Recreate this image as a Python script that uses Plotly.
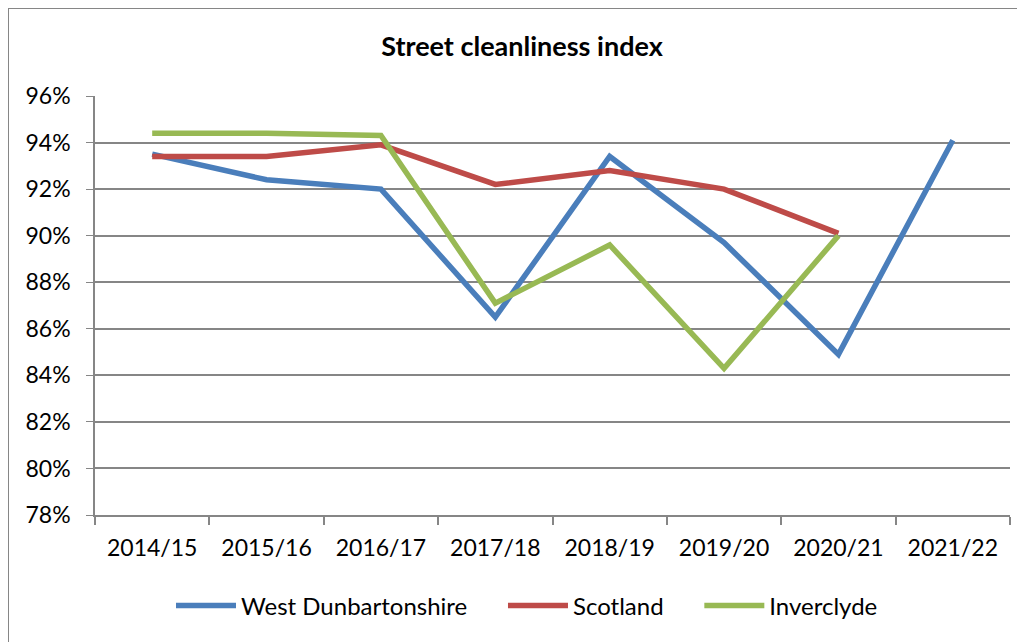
import plotly.graph_objects as go

years = ["2014/15", "2015/16", "2016/17", "2017/18", "2018/19", "2019/20", "2020/21", "2021/22"]
west_dunbartonshire = [93.5, 92.4, 92.0, 86.5, 93.4, 89.7, 84.9, 94.1]
scotland = [93.4, 93.4, 93.9, 92.2, 92.8, 92.0, 90.1, None]
inverclyde = [94.4, 94.4, 94.3, 87.1, 89.6, 84.3, 90.0, None]

y_ticks = [78, 80, 82, 84, 86, 88, 90, 92, 94, 96]
y_tick_labels = [f"{v}%" for v in y_ticks]

FONT = "Lato"
PAD = "\u00a0" * 5
fig = go.Figure()
for name, vals, color, pad in [
    ("West Dunbartonshire", west_dunbartonshire, "#4A7EBB", PAD),
    ("Scotland", scotland, "#BE4B48", PAD),
    ("Inverclyde", inverclyde, "#98B954", ""),
]:
    fig.add_trace(go.Scatter(x=years, y=vals, name=name + pad, mode="lines",
                             line=dict(color=color, width=5.5), connectgaps=False))

L, R, T, B = 87, 1002, 88, 507  # plot area in figure px (page has 8px body margin)
W, H = 1025, 642
PW, PH = R - L, B - T

fig.update_layout(
    width=W, height=H,
    margin=dict(l=L, r=W - R, t=T, b=H - B),
    paper_bgcolor="white", plot_bgcolor="white",
    font=dict(family=FONT, size=23, color="#000000"),
    title=dict(text="<b>Street cleanliness index</b>", x=514 / W, xref="container",
               y=1 - 39 / H, yref="container", xanchor="center", yanchor="middle",
               font=dict(family=FONT, size=27, color="#000000")),
    showlegend=True,
    legend=dict(orientation="h", x=(519 - L) / PW, xanchor="center",
                y=(B - 598) / PH, yanchor="middle",
                font=dict(family=FONT, size=24), itemwidth=60, tracegroupgap=0),
    xaxis=dict(type="category", categoryorder="array", categoryarray=years,
               showgrid=False, showline=True, linecolor="#868686", linewidth=2,
               ticks="outside", ticklen=8, tickcolor="#868686", tickwidth=1.5,
               tickson="boundaries", range=[-0.5, 7.5], fixedrange=True,
               ticklabelstandoff=11,
               tickfont=dict(family=FONT, size=23)),
    yaxis=dict(range=[78, 96], tickvals=y_ticks, ticktext=y_tick_labels,
               showgrid=True, gridcolor="#868686", gridwidth=1.5,
               showline=True, linecolor="#868686", linewidth=1.5,
               ticks="outside", ticklen=7, tickcolor="#868686",
               ticklabelstandoff=11,
               zeroline=False, tickfont=dict(family=FONT, size=23)),
)

fig.add_shape(type="rect", xref="paper", yref="paper",
              x0=(0 - L) / PW, x1=(1030 - L) / PW,
              y0=(B - 660) / PH, y1=(B - 0) / PH,
              line=dict(color="#868686", width=2), fillcolor="rgba(0,0,0,0)", layer="below")

fig.write_html("out.html")
